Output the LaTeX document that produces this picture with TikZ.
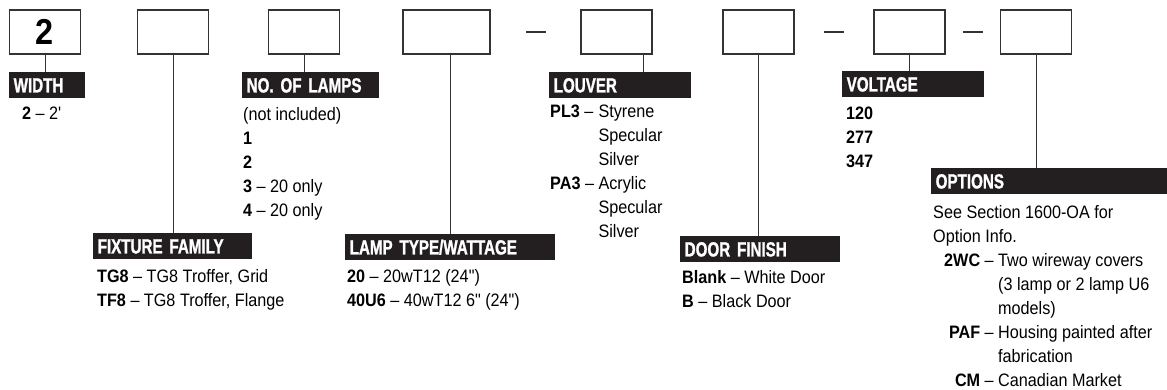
\documentclass[tikz,border=0pt]{standalone}
\usepackage{fontspec}
\setmainfont{Liberation Sans}
\newfontfamily\bodyfont{Liberation Sans}[FakeStretch=0.9]
\newfontfamily\headfont{Liberation Sans}[FakeStretch=0.74,
  BoldFeatures={FakeBold=1.2}]
\usepackage{tikz}
\usetikzlibrary{positioning}
\definecolor{hdrblack}{HTML}{231F20}
\definecolor{linegray}{HTML}{333333}
\tikzset{
  %% Empty code box
  codebox/.style={
    rectangle, draw=linegray, line width=1.1pt,
    minimum width=#1, minimum height=44pt, inner sep=0pt
  },
  codebox/.default=71pt,
  %% Black heading bar
  hbar/.style={
    rectangle, fill=hdrblack, text=white, anchor=north west,
    text width=#1, inner xsep=4.5pt, inner ysep=0pt,
    minimum height=26pt, text height=14.5pt, text depth=0pt,
    align=left, font=\headfont\bfseries\fontsize{20.5}{21}\selectfont
  },
  %% Leader line
  lead/.style={draw=linegray, line width=0.9pt},
  %% Dash between boxes
  sepdash/.style={
    rectangle, fill=linegray, inner sep=0pt,
    minimum width=20pt, minimum height=2.6pt
  },
  %% List under a heading
  body/.style={anchor=base west, inner sep=0pt,
    font=\bodyfont\fontsize{18}{24}\selectfont},
}

\begin{document}
\begin{tikzpicture}[x=1pt, y=-1pt]
  \useasboundingbox (0,0) rectangle (1167,389);

  %% Code boxes
  \node[codebox] (b1) at (45,32)
       {\bodyfont\bfseries\fontsize{36}{36}\selectfont 2};
  \node[codebox] (b2) at (173,32) {};
  \node[codebox] (b3) at (304,32) {};
  \node[codebox=87pt] (b4) at (446.5,32) {};
  \node[codebox] (b5) at (616.5,32) {};
  \node[codebox] (b6) at (758.5,32) {};
  \node[codebox] (b7) at (909.5,32) {};
  \node[codebox] (b8) at (1036,32) {};

  %% Dashes
  \path (b4.east) -- (b5.west) node[midway, sepdash] (d1) {};
  \path (b6.east) -- (b7.west) node[midway, sepdash] (d2) {};
  \path (b7.east) -- (b8.west) node[midway, sepdash] (d3) {};

  %% Headings
  \node[hbar=67pt]  (h1) at (9,72)    {WIDTH};
  \node[hbar=150pt] (h2) at (93,233)  {FIXTURE FAMILY};
  \node[hbar=128pt] (h3) at (242,72)  {NO. OF LAMPS};
  \node[hbar=201pt] (h4) at (345,234) {LAMP TYPE/WATTAGE};
  \node[hbar=133pt] (h5) at (549,72)  {LOUVER};
  \node[hbar=151pt] (h6) at (680,236) {DOOR FINISH};
  \node[hbar=133pt] (h7) at (842,71)  {VOLTAGE};
  \node[hbar=227pt] (h8) at (931,168) {OPTIONS};

  %% Leaders
  \coordinate (c4) at ([xshift=3.5pt]b4.south);
  \coordinate (c5) at ([xshift=26.5pt]b5.south);
  \draw[lead] (b1.south) -- (b1.south |- h1.north);
  \draw[lead] (b2.south) -- (b2.south |- h2.north);
  \draw[lead] (b3.south) -- (b3.south |- h3.north);
  \draw[lead] (c4) -- (c4 |- h4.north);
  \draw[lead] (c5) -- (c5 |- h5.north);
  \draw[lead] (b6.south) -- (b6.south |- h6.north);
  \draw[lead] (b7.south) -- (b7.south |- h7.north);
  \draw[lead] (b8.south) -- (b8.south |- h8.north);

  %% Lists
  \node[body] (t1) at ([xshift=13pt, yshift=-21pt]h1.south west)
       {\begin{tabular}[t]{@{}l@{}}\textbf{2} – 2'\end{tabular}};
  \node[body] (t2) at ([xshift=4pt, yshift=-23pt]h2.south west)
       {\begin{tabular}[t]{@{}l@{}}
        \textbf{TG8} – TG8 Troffer, Grid\\
        \textbf{TF8} – TG8 Troffer, Flange
        \end{tabular}};
  \node[body] (t3) at ([xshift=1pt, yshift=-22.5pt]h3.south west)
       {\begin{tabular}[t]{@{}l@{}}
        (not included)\\ \textbf{1}\\ \textbf{2}\\
        \textbf{3} – 20 only\\ \textbf{4} – 20 only
        \end{tabular}};
  \node[body] (t4) at ([xshift=2pt, yshift=-22.5pt]h4.south west)
       {\begin{tabular}[t]{@{}l@{}}
        \textbf{20} – 20wT12 (24")\\
        \textbf{40U6} – 40wT12 6" (24")
        \end{tabular}};
  \node[body] (t5) at ([xshift=1pt, yshift=-19pt]h5.south west)
       {\begin{tabular}[t]{@{}l@{}l@{}}
        \textbf{PL3} – \null & Styrene\\ & Specular\\ & Silver\\
        \textbf{PA3} – \null & Acrylic\\ & Specular\\ & Silver
        \end{tabular}};
  \node[body] (t6) at ([xshift=2pt, yshift=-21pt]h6.south west)
       {\begin{tabular}[t]{@{}l@{}}
        \textbf{Blank} – White Door\\ \textbf{B} – Black Door
        \end{tabular}};
  \node[body] (t7) at ([xshift=4pt, yshift=-22pt]h7.south west)
       {\begin{tabular}[t]{@{}l@{}}
        \textbf{120}\\ \textbf{277}\\ \textbf{347}
        \end{tabular}};
  \node[body] (t8) at ([xshift=2pt, yshift=-24pt]h8.south west)
       {\begin{tabular}[t]{@{}r@{}l@{}}
        \multicolumn{2}{@{}l@{}}{See Section 1600-OA for}\\
        \multicolumn{2}{@{}l@{}}{Option Info.}\\
        \makebox[65pt][r]{\textbf{2WC} – \null} & Two wireway covers\\
        & (3 lamp or 2 lamp U6\\
        & models)\\
        \textbf{PAF} – \null & Housing painted after\\
        & fabrication\\
        \textbf{CM} – \null & Canadian Market
        \end{tabular}};
\end{tikzpicture}
\end{document}
